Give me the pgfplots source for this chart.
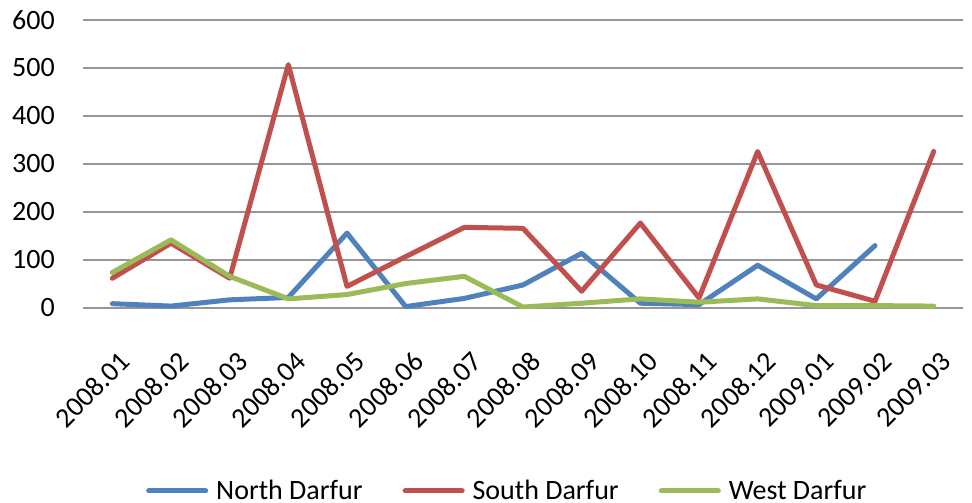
\documentclass[border=0pt]{standalone}
\usepackage{fontspec}
\setmainfont{Carlito}
\usepackage{pgfplots}
\pgfplotsset{compat=1.18}

\definecolor{nblue}{RGB}{79,129,189}
\definecolor{sred}{RGB}{192,80,77}
\definecolor{wgreen}{RGB}{155,187,89}
\definecolor{gridc}{RGB}{150,150,150}

\begin{document}
\begin{tikzpicture}
\begin{axis}[
  scale only axis,
  width=880bp, height=288bp,
  xmin=-0.5, xmax=14.5,
  ymin=0, ymax=600,
  xtick={0,...,14},
  xticklabels={2008.01,2008.02,2008.03,2008.04,2008.05,2008.06,2008.07,2008.08,2008.09,2008.10,2008.11,2008.12,2009.01,2009.02,2009.03},
  ytick={0,100,...,600},
  axis line style={draw=none},
  tick style={draw=none},
  ymajorgrids,
  grid style={gridc, line width=1.2bp},
  font=\fontsize{28bp}{33bp}\selectfont,
  /pgf/number format/assume math mode=true,
  yticklabel style={anchor=east, inner sep=0pt, xshift=-28bp},
  % shifts are in the rotated frame: page offset (+6bp, -42bp)
  xticklabel style={rotate=45, anchor=north east, inner sep=0pt, xshift=-25.5bp, yshift=-33.9bp},
  legend columns=-1,
  legend style={at={(0.481,-0.635)}, anchor=center, draw=none, fill=none,
    nodes={inner sep=0pt, anchor=west},
    /tikz/every odd column/.append style={column sep=8bp},
    /tikz/every even column/.append style={column sep=40bp}},
  legend image code/.code={\draw[#1, line width=5bp] (0bp,0bp) -- (57bp,0bp);},
  every axis plot/.append style={line width=5bp, line join=round, line cap=round, mark=none},
]
\addplot[nblue] coordinates {(0,9) (1,4) (2,17) (3,22) (4,156) (5,3) (6,20) (7,48) (8,114) (9,10) (10,7) (11,89) (12,19) (13,130)};
\addplot[sred] coordinates {(0,62) (1,135) (2,62) (3,507) (4,45) (5,107) (6,168) (7,166) (8,35) (9,177) (10,21) (11,326) (12,48) (13,14) (14,326)};
\addplot[wgreen] coordinates {(0,74) (1,142) (2,66) (3,19) (4,28) (5,51) (6,66) (7,2) (8,10) (9,19) (10,12) (11,19) (12,5) (13,5) (14,4)};
\legend{North Darfur, South Darfur, West Darfur}
\end{axis}
\pgfresetboundingbox
\path[use as bounding box] (-83bp,-195bp) rectangle (889bp,308bp);
\end{tikzpicture}
\end{document}
